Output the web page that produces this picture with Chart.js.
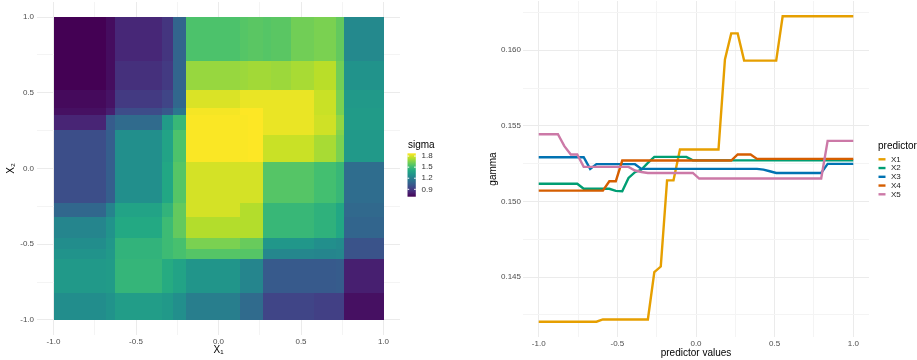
<!DOCTYPE html>
<html>
<head>
<meta charset="utf-8">
<title>sigma / gamma</title>
<script src="https://cdn.jsdelivr.net/npm/chart.js@4.4.1/dist/chart.umd.min.js"></script>
<style>
  html, body { margin: 0; padding: 0; background: #fff; }
  #wrap { position: relative; width: 917px; height: 360px; overflow: hidden; }
  #heat { position: absolute; left: 0; top: 0; }
  #lines { position: absolute; left: 460px; top: 0; }
</style>
</head>
<body>
<div id="wrap">
  <canvas id="heat" width="460" height="360"></canvas>
  <canvas id="lines" width="457" height="360"></canvas>
</div>
<script>
// ---- left panel: sigma over (X1, X2), piecewise blocks ----
const sigmaXBreaks = [-1, -0.68, -0.625, -0.34, -0.275, -0.2, 0.13, 0.18, 0.27, 0.32, 0.44, 0.58, 0.71, 0.76, 1];
// rows listed from top (X2 = 1) to bottom (X2 = -1)
const sigmaYBreaks = [1, 0.71, 0.52, 0.4, 0.355, 0.255, 0.22, 0.046, -0.23, -0.32, -0.46, -0.53, -0.6, -0.82, -1];
const sigmaValues = [
  [0.68, 0.74, 0.83, 0.88, 1.08, 1.54, 1.56, 1.57, 1.56, 1.57, 1.62, 1.64, 1.59, 1.25],
  [0.69, 0.74, 0.86, 0.90, 1.08, 1.69, 1.70, 1.71, 1.71, 1.70, 1.72, 1.75, 1.62, 1.30],
  [0.73, 0.76, 0.90, 0.94, 1.09, 1.81, 1.84, 1.84, 1.84, 1.84, 1.84, 1.78, 1.64, 1.33],
  [0.75, 0.80, 0.97, 1.02, 1.16, 1.86, 1.88, 1.88, 1.84, 1.84, 1.84, 1.78, 1.64, 1.34],
  [0.82, 1.04, 1.11, 1.34, 1.48, 1.87, 1.87, 1.88, 1.84, 1.84, 1.84, 1.79, 1.68, 1.34],
  [0.98, 1.05, 1.28, 1.38, 1.54, 1.87, 1.87, 1.88, 1.84, 1.84, 1.84, 1.79, 1.66, 1.33],
  [0.98, 1.05, 1.28, 1.38, 1.54, 1.87, 1.87, 1.88, 1.78, 1.78, 1.78, 1.72, 1.64, 1.33],
  [0.98, 1.05, 1.28, 1.40, 1.56, 1.80, 1.80, 1.80, 1.56, 1.56, 1.56, 1.52, 1.48, 1.12],
  [1.09, 1.22, 1.38, 1.46, 1.59, 1.80, 1.74, 1.74, 1.48, 1.48, 1.48, 1.45, 1.40, 1.10],
  [1.23, 1.30, 1.41, 1.50, 1.59, 1.74, 1.74, 1.74, 1.48, 1.48, 1.48, 1.45, 1.40, 1.08],
  [1.27, 1.32, 1.46, 1.50, 1.53, 1.64, 1.60, 1.60, 1.32, 1.32, 1.32, 1.28, 1.26, 1.00],
  [1.30, 1.33, 1.46, 1.50, 1.53, 1.56, 1.56, 1.56, 1.24, 1.24, 1.24, 1.23, 1.24, 1.00],
  [1.33, 1.34, 1.47, 1.42, 1.38, 1.31, 1.23, 1.23, 1.03, 1.03, 1.03, 1.03, 1.04, 0.80],
  [1.27, 1.30, 1.35, 1.33, 1.28, 1.20, 1.11, 1.11, 0.94, 0.94, 0.94, 0.92, 0.92, 0.75]
];
const sigmaRange = [0.70, 1.875];
const sigmaLegendTicks = [1.8, 1.5, 1.2, 0.9];

const unitMajor = [-1, -0.5, 0, 0.5, 1];
const unitMinor = [-0.75, -0.25, 0.25, 0.75];

// ---- right panel: gamma vs predictor values ----
const predictorGrid = [-1.000, -0.959, -0.918, -0.878, -0.837, -0.796, -0.755, -0.714, -0.673, -0.633,
  -0.592, -0.551, -0.510, -0.469, -0.429, -0.388, -0.347, -0.306, -0.265, -0.224,
  -0.184, -0.143, -0.102, -0.061, -0.020, 0.020, 0.061, 0.102, 0.143, 0.184,
  0.224, 0.265, 0.306, 0.347, 0.388, 0.429, 0.469, 0.510, 0.551, 0.592,
  0.633, 0.673, 0.714, 0.755, 0.796, 0.837, 0.878, 0.918, 0.959, 1.000];
const predictorNames = ['X1', 'X2', 'X3', 'X4', 'X5'];
const gammaX1 = [0.14205, 0.14205, 0.14205, 0.14205, 0.14205, 0.14205, 0.14205, 0.14205, 0.14205, 0.14205,
  0.14220, 0.14220, 0.14220, 0.14220, 0.14220, 0.14220, 0.14220, 0.14220, 0.14533, 0.14570,
  0.15140, 0.15140, 0.15344, 0.15344, 0.15344, 0.15344, 0.15344, 0.15344, 0.15344, 0.15940,
  0.16112, 0.16112, 0.15932, 0.15932, 0.15932, 0.15932, 0.15932, 0.15932, 0.16225, 0.16225,
  0.16225, 0.16225, 0.16225, 0.16225, 0.16225, 0.16225, 0.16225, 0.16225, 0.16225, 0.16225];
const gammaX2 = [0.15117, 0.15117, 0.15117, 0.15117, 0.15117, 0.15117, 0.15117, 0.15084, 0.15084, 0.15084,
  0.15084, 0.15084, 0.15070, 0.15068, 0.15156, 0.15194, 0.15211, 0.15256, 0.15295, 0.15295,
  0.15295, 0.15295, 0.15295, 0.15295, 0.15272, 0.15272, 0.15272, 0.15272, 0.15272, 0.15272,
  0.15272, 0.15272, 0.15272, 0.15272, 0.15272, 0.15272, 0.15272, 0.15272, 0.15272, 0.15272,
  0.15272, 0.15272, 0.15272, 0.15272, 0.15272, 0.15272, 0.15272, 0.15272, 0.15272, 0.15272];
const gammaX3 = [0.15293, 0.15293, 0.15293, 0.15293, 0.15293, 0.15293, 0.15293, 0.15293, 0.15216, 0.15247,
  0.15247, 0.15247, 0.15247, 0.15247, 0.15247, 0.15247, 0.15216, 0.15216, 0.15216, 0.15216,
  0.15216, 0.15216, 0.15216, 0.15216, 0.15216, 0.15216, 0.15216, 0.15216, 0.15216, 0.15216,
  0.15216, 0.15216, 0.15216, 0.15216, 0.15216, 0.15211, 0.15200, 0.15189, 0.15189, 0.15189,
  0.15189, 0.15189, 0.15189, 0.15189, 0.15189, 0.15249, 0.15249, 0.15249, 0.15249, 0.15249];
const gammaX4 = [0.15072, 0.15072, 0.15072, 0.15072, 0.15072, 0.15072, 0.15072, 0.15072, 0.15072, 0.15072,
  0.15072, 0.15134, 0.15134, 0.15271, 0.15271, 0.15271, 0.15271, 0.15271, 0.15271, 0.15271,
  0.15271, 0.15271, 0.15271, 0.15271, 0.15271, 0.15271, 0.15271, 0.15271, 0.15271, 0.15271,
  0.15271, 0.15311, 0.15311, 0.15311, 0.15282, 0.15282, 0.15282, 0.15282, 0.15282, 0.15282,
  0.15282, 0.15282, 0.15282, 0.15282, 0.15282, 0.15282, 0.15282, 0.15282, 0.15282, 0.15282];
const gammaX5 = [0.15445, 0.15445, 0.15445, 0.15445, 0.15366, 0.15311, 0.15311, 0.15229, 0.15229, 0.15229,
  0.15229, 0.15229, 0.15229, 0.15229, 0.15229, 0.15205, 0.15195, 0.15189, 0.15189, 0.15189,
  0.15189, 0.15189, 0.15189, 0.15189, 0.15189, 0.15152, 0.15152, 0.15152, 0.15152, 0.15152,
  0.15152, 0.15152, 0.15152, 0.15152, 0.15152, 0.15152, 0.15152, 0.15152, 0.15152, 0.15152,
  0.15152, 0.15152, 0.15152, 0.15152, 0.15152, 0.15401, 0.15401, 0.15401, 0.15401, 0.15401];
const gammaSeries = [gammaX1, gammaX2, gammaX3, gammaX4, gammaX5];
const gammaMajor = [0.145, 0.150, 0.155, 0.160];
const gammaMinor = [0.1425, 0.1475, 0.1525, 0.1575, 0.1625];

const lineColors = ['#E69F00', '#009E73', '#0072B2', '#D55E00', '#CC79A7'];
const FONT = '"Liberation Sans", Arial, "DejaVu Sans", sans-serif';
Chart.defaults.font.family = FONT;

const viridisStops = ['#440154', '#482475', '#414487', '#355f8d', '#2a788e', '#21918c',
  '#22a884', '#44bf70', '#7ad151', '#bddf26', '#fde725'];

function hexRgb(h) {
    return [1, 3, 5].map(i => parseInt(h.slice(i, i + 2), 16));
}

function viridis(t) {
    t = Math.max(0, Math.min(1, t));
    const p = t * 10;
    const i = Math.min(9, Math.floor(p));
    const f = p - i;
    const a = hexRgb(viridisStops[i]), b = hexRgb(viridisStops[i + 1]);
    const c = a.map((v, k) => Math.round(v + (b[k] - v) * f));
    return `rgb(${c[0]},${c[1]},${c[2]})`;
}

function sigmaT(v) {
    return (v - sigmaRange[0]) / (sigmaRange[1] - sigmaRange[0]);
}

// one scatter point per block, carrying its extent
const heatCells = [];
sigmaValues.forEach((row, r) => {
    row.forEach((v, c) => {
        heatCells.push({
            x: (sigmaXBreaks[c] + sigmaXBreaks[c + 1]) / 2,
            y: (sigmaYBreaks[r] + sigmaYBreaks[r + 1]) / 2,
            x0: sigmaXBreaks[c], x1: sigmaXBreaks[c + 1],
            y0: sigmaYBreaks[r + 1], y1: sigmaYBreaks[r],
            v
        });
    });
});

function makeAxis(o) {
    const all = o.major.concat(o.minor).sort((a, b) => a - b);
    return {
        type: 'linear',
        min: o.min,
        max: o.max,
        border: { display: false },
        afterBuildTicks(scale) {
            scale.ticks = all.map(v => ({ value: v }));
        },
        afterFit(scale) {
            if (scale.isHorizontal()) scale.height = o.size; else scale.width = o.size;
            scale.paddingLeft = scale.paddingRight = scale.paddingTop = scale.paddingBottom = 0;
        },
        grid: {
            drawTicks: false,
            color: ctx => o.major.includes(ctx.tick.value) ? '#ebebeb' : '#f4f4f4',
            lineWidth: 1
        },
        ticks: {
            autoSkip: false,
            maxRotation: 0,
            padding: o.tickPad,
            color: '#4d4d4d',
            font: { size: 8 },
            callback: v => o.major.includes(v) ? v.toFixed(o.digits) : ''
        },
        title: {
            display: true,
            text: o.title,
            color: '#000',
            font: { size: 10 },
            padding: o.titlePad
        }
    };
}

const heatTiles = {
    id: 'heatTiles',
    beforeDatasetsDraw(chart) {
        const { ctx, scales: { x, y } } = chart;
        ctx.save();
        chart.data.datasets[0].data.forEach(c => {
            const l = Math.round(x.getPixelForValue(c.x0));
            const r = Math.round(x.getPixelForValue(c.x1));
            const t = Math.round(y.getPixelForValue(c.y1));
            const b = Math.round(y.getPixelForValue(c.y0));
            ctx.fillStyle = viridis(sigmaT(c.v));
            ctx.fillRect(l, t, r - l, b - t);
        });
        ctx.restore();
    }
};

const sigmaBar = {
    id: 'sigmaBar',
    afterDraw(chart) {
        const ctx = chart.ctx;
        const left = 407.5, w = 8.3, top = 153.3, bottom = 196.7;
        ctx.save();
        ctx.fillStyle = '#000';
        ctx.font = '10px ' + FONT;
        ctx.textBaseline = 'middle';
        ctx.fillText('sigma', 408, 145);
        const g = ctx.createLinearGradient(0, bottom, 0, top);
        viridisStops.forEach((c, i) => g.addColorStop(i / 10, c));
        ctx.fillStyle = g;
        ctx.fillRect(left, top, w, bottom - top);
        ctx.font = '8px ' + FONT;
        sigmaLegendTicks.forEach(v => {
            const yy = bottom - sigmaT(v) * (bottom - top);
            ctx.strokeStyle = '#fff';
            ctx.lineWidth = 1;
            ctx.beginPath();
            ctx.moveTo(left, yy); ctx.lineTo(left + 1.7, yy);
            ctx.moveTo(left + w - 1.7, yy); ctx.lineTo(left + w, yy);
            ctx.stroke();
            ctx.fillStyle = '#333';
            ctx.fillText(v.toFixed(1), 421.5, yy);
        });
        ctx.restore();
    }
};

const gammaLegend = {
    id: 'gammaLegend',
    afterDraw(chart) {
        const ctx = chart.ctx;
        const x0 = 418;
        ctx.save();
        ctx.textBaseline = 'middle';
        ctx.fillStyle = '#000';
        ctx.font = '10px ' + FONT;
        ctx.fillText('predictor', x0, 146);
        ctx.font = '8px ' + FONT;
        chart.data.datasets.forEach((ds, i) => {
            const yy = 159.3 + i * 8.75;
            ctx.strokeStyle = ds.borderColor;
            ctx.lineWidth = 2.4;
            ctx.beginPath();
            ctx.moveTo(x0 + 0.5, yy); ctx.lineTo(x0 + 7.5, yy);
            ctx.stroke();
            ctx.fillStyle = '#222';
            ctx.fillText(ds.label, x0 + 13, yy);
        });
        ctx.restore();
    }
};

new Chart(document.getElementById('heat'), {
    type: 'scatter',
    data: { datasets: [{ label: 'sigma', data: heatCells, pointRadius: 0 }] },
    options: {
        responsive: false,
        animation: false,
        events: [],
        layout: { padding: { left: 0, right: 60, top: 2, bottom: 0 } },
        plugins: { legend: { display: false }, tooltip: { enabled: false } },
        scales: {
            x: makeAxis({ min: -1.1, max: 1.1, major: unitMajor, minor: unitMinor, digits: 1,
                title: 'X₁', size: 25, tickPad: 2, titlePad: { top: 0, bottom: 4 } }),
            y: makeAxis({ min: -1.1, max: 1.1, major: unitMajor, minor: unitMinor, digits: 1,
                title: 'X₂', size: 37, tickPad: 3, titlePad: { top: 5.5, bottom: 0 } })
        }
    },
    plugins: [heatTiles, sigmaBar]
});

new Chart(document.getElementById('lines'), {
    type: 'line',
    data: {
        datasets: predictorNames.map((name, i) => ({
            label: name,
            data: predictorGrid.map((x, k) => ({ x, y: gammaSeries[i][k] })),
            borderColor: lineColors[i],
            borderWidth: 2.4,
            pointRadius: 0,
            tension: 0,
            fill: false,
            order: predictorNames.length - i
        }))
    },
    options: {
        responsive: false,
        animation: false,
        events: [],
        layout: { padding: { left: 24, right: 48, top: 1, bottom: 0 } },
        plugins: { legend: { display: false }, tooltip: { enabled: false } },
        scales: {
            x: makeAxis({ min: -1.1, max: 1.1, major: unitMajor, minor: unitMinor, digits: 1,
                title: 'predictor values', size: 23, tickPad: 1.5, titlePad: { top: 0, bottom: 1 } }),
            y: makeAxis({ min: 0.14104, max: 0.16326, major: gammaMajor, minor: gammaMinor, digits: 3,
                title: 'gamma', size: 39, tickPad: 2, titlePad: { top: 3.3, bottom: 0 } })
        }
    },
    plugins: [gammaLegend]
});
</script>
</body>
</html>
